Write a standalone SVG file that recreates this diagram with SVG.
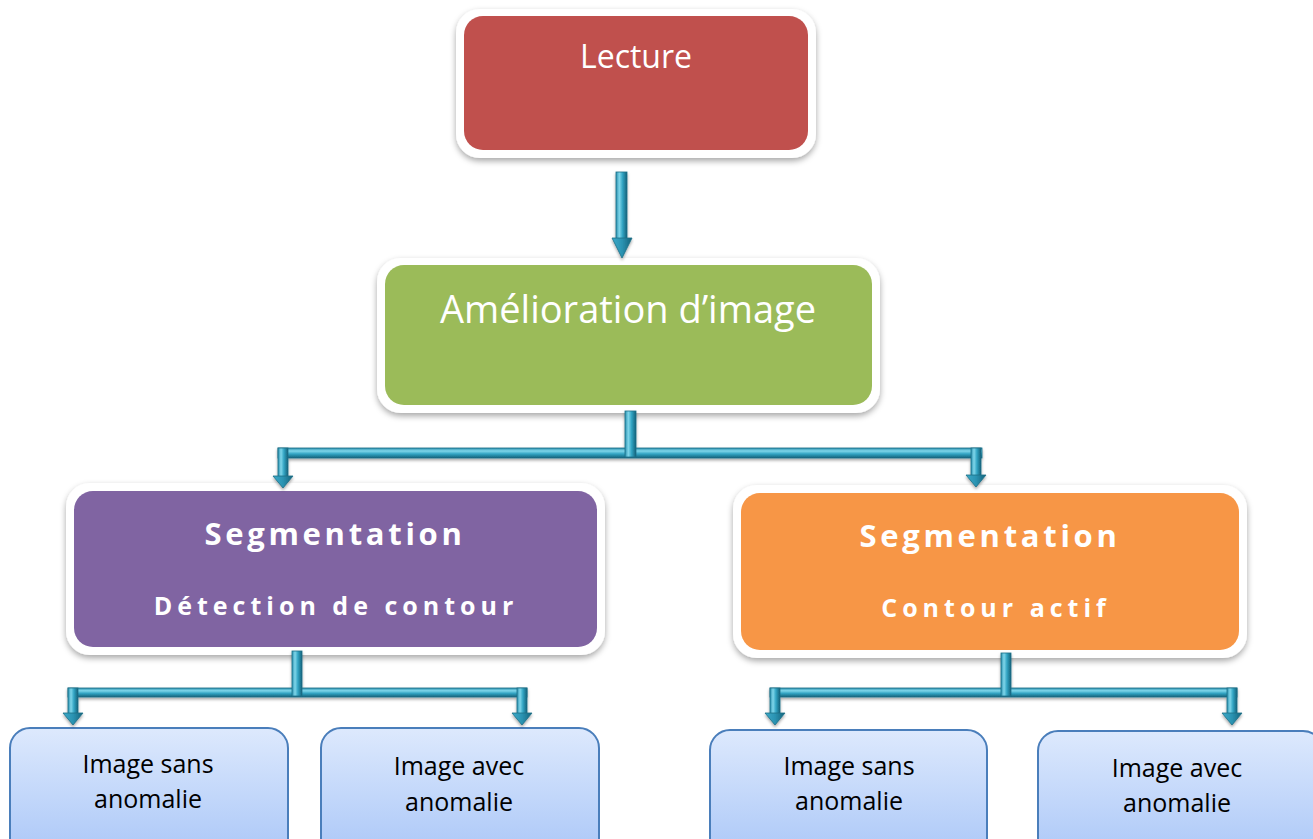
<svg xmlns="http://www.w3.org/2000/svg" width="1313" height="839" viewBox="0 0 1313 839">
  <defs>
    <filter id="boxShadow" x="-10%" y="-10%" width="120%" height="130%">
      <feDropShadow dx="0" dy="3" stdDeviation="3" flood-color="#000" flood-opacity="0.35"/>
    </filter>
    <filter id="tubeShadow" x="-10%" y="-30%" width="120%" height="180%">
      <feDropShadow dx="0" dy="2" stdDeviation="1.5" flood-color="#000" flood-opacity="0.35"/>
    </filter>
    <!-- tube shading: vertical pieces lit from the left, horizontal from the top -->
    <linearGradient id="tubeV" x1="0" y1="0" x2="1" y2="0">
      <stop offset="0" stop-color="#2a8fad"/>
      <stop offset="0.3" stop-color="#7fd6ea"/>
      <stop offset="0.6" stop-color="#31a3c2"/>
      <stop offset="1" stop-color="#15627a"/>
    </linearGradient>
    <linearGradient id="tubeH" x1="0" y1="0" x2="0" y2="1">
      <stop offset="0" stop-color="#2a8fad"/>
      <stop offset="0.3" stop-color="#7fd6ea"/>
      <stop offset="0.6" stop-color="#31a3c2"/>
      <stop offset="1" stop-color="#15627a"/>
    </linearGradient>
    <linearGradient id="headFill" x1="0" y1="0" x2="1" y2="0">
      <stop offset="0" stop-color="#3aa9c8"/>
      <stop offset="0.5" stop-color="#2b93b2"/>
      <stop offset="1" stop-color="#15627a"/>
    </linearGradient>
    <linearGradient id="leafFill" x1="0" y1="0" x2="0" y2="1">
      <stop offset="0" stop-color="#dde9fd"/>
      <stop offset="1" stop-color="#a6c4f7"/>
    </linearGradient>
  </defs>
  <style>
    .frame { fill: #ffffff; filter: url(#boxShadow); }
    .lbl { font-family: "Open Sans", "Noto Sans", sans-serif; fill: #ffffff; text-anchor: middle; }
    .seg { font-family: "Open Sans", "Noto Sans", sans-serif; font-weight: bold; fill: #ffffff; text-anchor: middle; }
    .leaf { fill: url(#leafFill); stroke: #4a7ebb; stroke-width: 2; }
    .leafTxt { font-family: "Open Sans", "Noto Sans", sans-serif; font-size: 25px; fill: #000000; text-anchor: middle; }
    .shaftV { fill: url(#tubeV); stroke: #1c6f87; stroke-width: 0.8; }
    .shaftH { fill: url(#tubeH); stroke: #1c6f87; stroke-width: 0.8; }
    .head { fill: url(#headFill); stroke: #1c6f87; stroke-width: 0.8; stroke-linejoin: round; }
  </style>

  <g id="node-lecture">
    <rect class="frame" x="456" y="9" width="360" height="149" rx="24"/>
    <rect x="464" y="16" width="344" height="134" rx="19" fill="#c0504d"/>
    <text class="lbl" x="636" y="68" font-size="32">Lecture</text>
  </g>

  <g id="node-amelioration">
    <rect class="frame" x="377" y="258" width="503" height="155" rx="24"/>
    <rect x="385" y="265" width="487" height="140" rx="19" fill="#9bbb59"/>
    <text class="lbl" x="628" y="323" font-size="38">Amélioration d’image</text>
  </g>

  <g id="node-seg-contour">
    <rect class="frame" x="66" y="483" width="539" height="172" rx="24"/>
    <rect x="74" y="491" width="523" height="156" rx="19" fill="#8064a2"/>
    <text class="seg" x="335" y="545" font-size="31" letter-spacing="3.7">Segmentation</text>
    <text class="seg" x="336" y="615" font-size="25" letter-spacing="5">Détection de contour</text>
  </g>

  <g id="node-seg-actif">
    <rect class="frame" x="733" y="485" width="514" height="173" rx="24"/>
    <rect x="741" y="493" width="498" height="157" rx="19" fill="#f79646"/>
    <text class="seg" x="990" y="547" font-size="31" letter-spacing="3.7">Segmentation</text>
    <text class="seg" x="996" y="617" font-size="25" letter-spacing="5">Contour actif</text>
  </g>

  <g id="node-dc-sans">
    <rect class="leaf" x="10" y="728" width="278" height="140" rx="20"/>
    <text class="leafTxt" x="148" y="773">Image sans</text>
    <text class="leafTxt" x="148" y="808">anomalie</text>
  </g>

  <g id="node-dc-avec">
    <rect class="leaf" x="321" y="728" width="278" height="140" rx="20"/>
    <text class="leafTxt" x="459" y="775">Image avec</text>
    <text class="leafTxt" x="459" y="811">anomalie</text>
  </g>

  <g id="node-ca-sans">
    <rect class="leaf" x="710" y="730" width="277" height="140" rx="20"/>
    <text class="leafTxt" x="849" y="775">Image sans</text>
    <text class="leafTxt" x="849" y="810">anomalie</text>
  </g>

  <g id="node-ca-avec">
    <rect class="leaf" x="1038" y="731" width="285" height="140" rx="20"/>
    <text class="leafTxt" x="1177" y="777">Image avec</text>
    <text class="leafTxt" x="1177" y="812">anomalie</text>
  </g>

  <g id="connectors">
    <!-- Lecture to Amélioration -->
    <g filter="url(#tubeShadow)">
      <rect class="shaftV" x="616" y="172" width="11" height="67"/>
      <polygon class="head" points="612,238 632,238 622,258"/>
    </g>

    <!-- Amélioration to both segmentations -->
    <g filter="url(#tubeShadow)">
      <rect class="shaftH" x="278" y="448" width="704" height="10"/>
      <rect class="shaftV" x="278" y="448" width="10" height="29"/>
      <polygon class="head" points="273,476 293,476 283,488"/>
      <rect class="shaftV" x="971" y="448" width="10" height="28"/>
      <polygon class="head" points="966,475 986,475 976,487"/>
      <rect class="shaftV" x="625" y="411" width="11" height="46"/>
    </g>

    <!-- Détection de contour to its results -->
    <g filter="url(#tubeShadow)">
      <rect class="shaftH" x="68" y="688" width="459" height="9"/>
      <rect class="shaftV" x="68" y="688" width="10" height="26"/>
      <polygon class="head" points="63,713 83,713 73,725"/>
      <rect class="shaftV" x="517" y="688" width="10" height="26"/>
      <polygon class="head" points="512,713 532,713 522,725"/>
      <rect class="shaftV" x="292" y="651" width="10" height="45"/>
    </g>

    <!-- Contour actif to its results -->
    <g filter="url(#tubeShadow)">
      <rect class="shaftH" x="770" y="688" width="467" height="9"/>
      <rect class="shaftV" x="770" y="688" width="10" height="26"/>
      <polygon class="head" points="765,713 785,713 775,725"/>
      <rect class="shaftV" x="1227" y="688" width="10" height="26"/>
      <polygon class="head" points="1222,713 1242,713 1232,725"/>
      <rect class="shaftV" x="1001" y="653" width="10" height="43"/>
    </g>
  </g>
</svg>
